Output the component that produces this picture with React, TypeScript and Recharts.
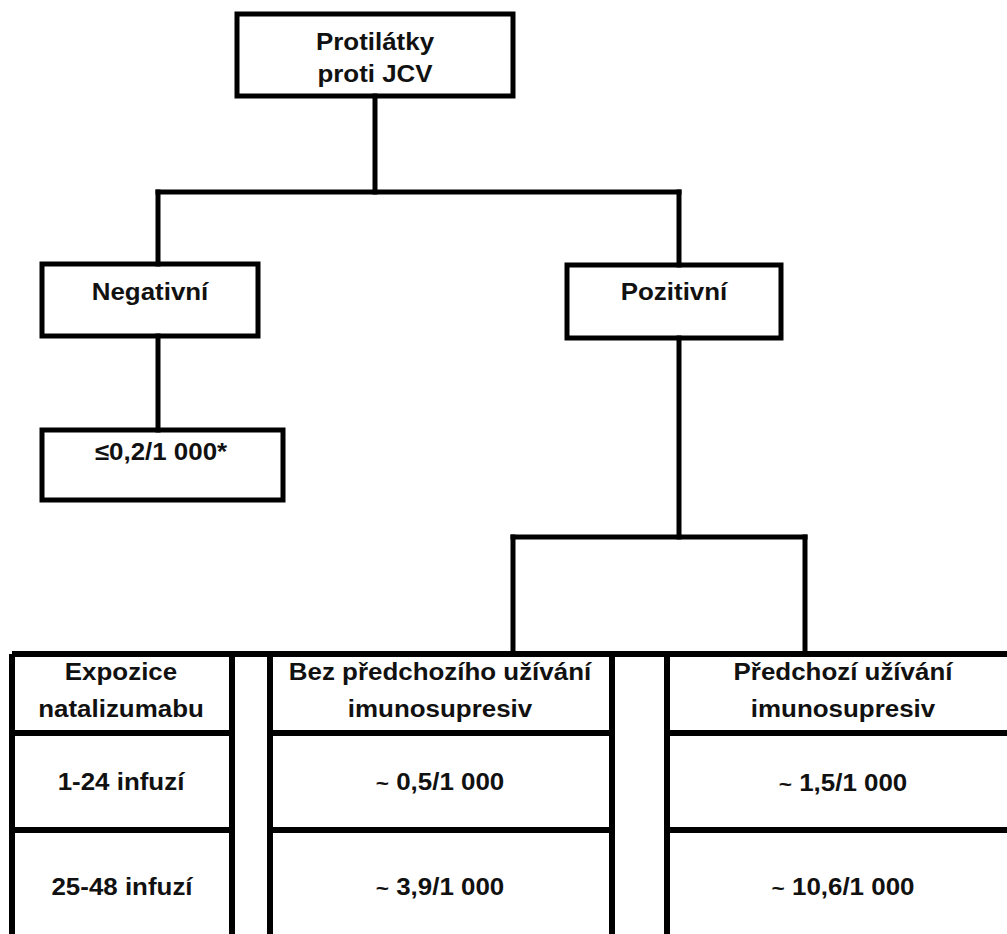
import React from "react";
import {
  ComposedChart,
  XAxis,
  YAxis,
  Scatter,
  ReferenceArea,
  ReferenceLine,
} from "recharts";

// diagram space = the picture's own units (0..1007 across, 0..934 down)
const W = 1007;
const H = 934;

// boxes of the tree: [x1, x2, y1, y2]
const boxNames = ["Protilátky proti JCV", "Negativní", "≤0,2/1 000*", "Pozitivní"];
const boxX1 = [237, 42, 42, 567];
const boxX2 = [513, 258, 283, 781];
const boxY1 = [14, 264, 430, 265];
const boxY2 = [96, 336, 500, 338];

// connector segments: x1, y1, x2, y2
const linkX1 = [375, 158, 158, 679, 158, 679, 513, 513, 805];
const linkY1 = [96, 192, 192, 192, 336, 338, 537, 537, 537];
const linkX2 = [375, 679, 158, 679, 158, 679, 805, 513, 805];
const linkY2 = [192, 192, 264, 265, 430, 537, 537, 654, 654];

// table grid
const tableTop = 654;
const tableLeft = 12;
const colLeft = [12, 270, 667];
const colRight = [232, 612, 1007];
const rowLines = [733, 830];

// texts: label, x, baseline y
const labelText = [
  "Protilátky", "proti JCV",
  "Negativní", "≤0,2/1 000*", "Pozitivní",
  "Expozice", "natalizumabu", "1-24 infuzí", "25-48 infuzí",
  "Bez předchozího užívání", "imunosupresiv", "~ 0,5/1 000", "~ 3,9/1 000",
  "Předchozí užívání", "imunosupresiv", "~ 1,5/1 000", "~ 10,6/1 000",
];
const labelX = [375, 375, 150, 161, 674, 121, 121, 121, 122, 440, 440, 440, 440, 843, 843, 843, 843];
const labelY = [50, 82, 300, 460, 300, 680, 717, 790, 895, 680, 717, 790, 895, 680, 717, 791, 895];

const labels = labelText.map((t, i) => ({ text: t, x: labelX[i], y: labelY[i] }));

const TextShape = (props: any) => {
  const { cx, cy, payload } = props;
  if (cx == null || cy == null) return null;
  const t: string = payload.text;
  const tilde = t.startsWith("~ ");
  return (
    <text
      transform={`translate(${cx},${cy}) scale(1.08,1)`}
      textAnchor="middle"
      fontFamily="'Liberation Sans', Arial, sans-serif"
      fontWeight="bold"
      fontSize={24}
      fill="#111"
    >
      {tilde ? (
        <>
          <tspan fontSize={21}>~</tspan>
          <tspan>{t.slice(1)}</tspan>
        </>
      ) : (
        t
      )}
    </text>
  );
};

export default function App() {
  const stroke = "#000";
  return (
    <div style={{ position: "absolute", left: 0, top: 0, background: "#fff" }}>
      <ComposedChart width={W} height={H} data={labels} margin={{ top: 0, right: 0, bottom: 0, left: 0 }}>
        <XAxis type="number" dataKey="x" domain={[0, W]} hide allowDataOverflow />
        <YAxis type="number" dataKey="y" domain={[0, H]} reversed hide allowDataOverflow />

        {linkX1.map((x, i) => (
          <ReferenceLine
            key={`l${i}`}
            segment={[{ x, y: linkY1[i] }, { x: linkX2[i], y: linkY2[i] }]}
            stroke={stroke}
            strokeWidth={5}
            strokeLinecap="square"
          />
        ))}

        <ReferenceLine
          segment={[{ x: tableLeft, y: tableTop }, { x: W, y: tableTop }]}
          stroke={stroke}
          strokeWidth={6}
        />
        {colLeft.map((x, i) => (
          <ReferenceLine
            key={`cl${i}`}
            segment={[{ x, y: tableTop }, { x, y: H }]}
            stroke={stroke}
            strokeWidth={6}
          />
        ))}
        {colRight.slice(0, 2).map((x, i) => (
          <ReferenceLine
            key={`cr${i}`}
            segment={[{ x, y: tableTop }, { x, y: H }]}
            stroke={stroke}
            strokeWidth={6}
          />
        ))}
        {rowLines.flatMap((y, r) =>
          colLeft.map((x, i) => (
            <ReferenceLine
              key={`r${r}-${i}`}
              segment={[{ x, y }, { x: colRight[i], y }]}
              stroke={stroke}
              strokeWidth={6}
            />
          ))
        )}

        {boxNames.map((name, i) => (
          <ReferenceArea
            key={name}
            x1={boxX1[i]}
            x2={boxX2[i]}
            y1={boxY1[i]}
            y2={boxY2[i]}
            fill="#fff"
            fillOpacity={0}
            stroke={stroke}
            strokeWidth={5}
          />
        ))}

        <Scatter data={labels} dataKey="y" shape={TextShape} isAnimationActive={false} />
      </ComposedChart>
    </div>
  );
}
